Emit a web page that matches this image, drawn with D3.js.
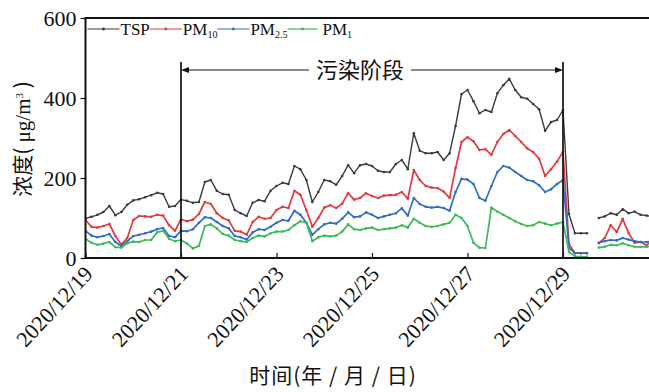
<!DOCTYPE html>
<html>
<head>
<meta charset="utf-8">
<script src="https://cdn.jsdelivr.net/npm/d3@7"></script>
<style>
  html, body { margin: 0; padding: 0; background: #fff; }
  svg { display: block; }
  text { font-family: "Liberation Serif", "Noto Sans CJK SC", serif; fill: #111; }
</style>
</head>
<body>
<svg id="chart" width="649" height="392"></svg>
<script>
// Concentrations sampled every 3 hours from 2020-12-19 00:00 (null = no record)
const startDate = new Date(2020, 11, 19, 0, 0);
const stepHours = 3;

const tsp = [
  99,103,108,115,130,107,115,133,144,147,152,157,163,160,128,130,146,
  143,138,140,190,195,168,160,158,120,112,105,138,145,142,168,180,
  188,185,230,222,195,140,165,195,192,183,205,232,212,232,235,230,
  218,215,215,235,245,222,312,268,262,262,265,245,262,330,410,
  420,392,362,370,365,412,432,448,420,402,398,385,372,318,340,345,370,
  110,62,62,62,null,100,104,112,108,122,112,116,108,106,104
];
const pm10 = [
  95,78,76,80,85,55,34,50,95,105,104,103,108,106,82,68,97,
  92,96,110,140,135,112,100,94,68,66,58,90,103,98,100,120,
  128,125,168,158,120,78,100,126,132,125,136,162,146,150,162,155,
  150,156,157,158,165,148,220,195,180,176,175,166,150,225,290,
  302,292,270,272,258,290,310,320,305,290,274,265,248,205,222,241,266,
  35,12,12,12,null,37,50,82,65,98,62,38,40,32,45
];
const pm25 = [
  68,56,52,55,60,40,30,42,55,58,62,66,72,75,55,52,68,
  67,72,88,102,100,90,80,74,55,52,46,64,72,70,78,88,
  95,93,118,108,88,58,72,84,88,86,98,114,102,104,114,108,
  100,104,108,112,124,106,150,135,128,126,128,125,118,165,198,
  196,185,150,143,180,215,230,226,215,205,195,192,182,165,172,185,195,
  25,12,12,12,null,38,42,45,44,50,46,42,40,40,42
];
const pm1 = [
  48,38,33,36,40,27,26,37,41,40,45,45,64,68,48,42,45,
  36,24,30,80,84,74,60,56,45,42,40,50,56,54,62,66,
  66,70,82,92,88,42,52,56,54,56,66,84,72,70,74,76,
  70,72,74,76,82,76,98,88,80,78,80,84,88,108,100,
  80,38,26,25,126,116,108,100,92,85,80,82,90,86,82,86,90,
  15,4,3,3,null,26,28,33,32,37,32,28,28,28,30
];

const seriesNames = ["TSP", "PM10", "PM2.5", "PM1"];
const seriesValues = [tsp, pm10, pm25, pm1];
const seriesColors = ["#3b3b3b", "#e2393f", "#2f6cc6", "#3cb95a"];

const yTicks = [0, 200, 400, 600];
const xTickDates = ["2020/12/19", "2020/12/21", "2020/12/23", "2020/12/25", "2020/12/27", "2020/12/29"];
const phaseStart = "2020/12/21";
const phaseEnd = "2020/12/29";
const phaseLabel = "污染阶段";
const xTitle = "时间(年 / 月 / 日)";

const parseDay = d3.timeParse("%Y/%m/%d");
const times = tsp.map((_, i) => d3.timeHour.offset(startDate, i * stepHours));

const svg = d3.select("#chart");
const W = 649, H = 392;
const margin = { left: 85.5, top: 18, bottom: 134 };
const plotBottom = H - margin.bottom;
const plotRight = margin.left + 12 * 47.75;

const x = d3.scaleTime()
  .domain([startDate, d3.timeDay.offset(startDate, 12)])
  .range([margin.left, plotRight]);
const y = d3.scaleLinear().domain([0, 600]).range([plotBottom, margin.top]);

svg.append("rect").attr("width", W).attr("height", H).attr("fill", "#fff");

svg.append("defs").append("clipPath").attr("id", "plotClip")
  .append("rect").attr("x", margin.left).attr("y", margin.top - 2)
  .attr("width", plotRight - margin.left).attr("height", plotBottom - margin.top + 2);

// Series lines with small point markers
const plot = svg.append("g").attr("clip-path", "url(#plotClip)");
const line = d3.line()
  .defined(d => d.v !== null)
  .x(d => x(d.t)).y(d => y(d.v));

seriesValues.forEach((vals, k) => {
  const pts = vals.map((v, i) => ({ t: times[i], v }));
  const g = plot.append("g");
  g.append("path").datum(pts)
    .attr("fill", "none")
    .attr("stroke", seriesColors[k])
    .attr("stroke-width", k === 0 ? 1.4 : 1.7)
    .attr("stroke-linejoin", "round")
    .attr("d", line);
  g.selectAll("circle").data(pts.filter(d => d.v !== null)).join("circle")
    .attr("cx", d => x(d.t)).attr("cy", d => y(d.v))
    .attr("r", 1.3).attr("fill", seriesColors[k]);
});

// Y axis
const yAxis = svg.append("g").attr("transform", `translate(${margin.left},0)`)
  .call(d3.axisLeft(y).tickValues(yTicks).tickSize(5).tickPadding(4).tickSizeOuter(0));
yAxis.select(".domain").remove();
yAxis.selectAll(".tick line").attr("stroke", "#111").attr("stroke-width", 1.2);
yAxis.selectAll(".tick text")
  .style("font-family", "'Liberation Serif', serif").style("font-size", "22px")
  .attr("fill", "#111").attr("dy", "0.34em");

// X axis (ticks point inward)
const xAxis = svg.append("g").attr("transform", `translate(0,${plotBottom})`)
  .call(d3.axisBottom(x).tickValues(xTickDates.map(parseDay))
    .tickSizeInner(-5).tickSizeOuter(0).tickFormat(d3.timeFormat("%Y/%m/%d")));
xAxis.select(".domain").remove();
xAxis.selectAll(".tick line").attr("stroke", "#111").attr("stroke-width", 1.2);
xAxis.selectAll(".tick text")
  .style("font-family", "'Liberation Serif', serif").style("font-size", "22px")
  .attr("fill", "#111")
  .attr("x", 0).attr("y", 0).attr("dy", 0)
  .style("text-anchor", "end")
  .attr("transform", "translate(8,17) rotate(-47)");

// Frame: left, bottom and top edges
svg.append("line").attr("x1", margin.left).attr("x2", margin.left)
  .attr("y1", margin.top).attr("y2", plotBottom).attr("stroke", "#111").attr("stroke-width", 2);
svg.append("line").attr("x1", margin.left - 1).attr("x2", W)
  .attr("y1", plotBottom).attr("y2", plotBottom).attr("stroke", "#111").attr("stroke-width", 2);
svg.append("line").attr("x1", margin.left - 1).attr("x2", W)
  .attr("y1", margin.top).attr("y2", margin.top).attr("stroke", "#111").attr("stroke-width", 2);

// Pollution phase markers
const xs = x(parseDay(phaseStart)), xe = x(parseDay(phaseEnd));
const arrowY = 70;
[xs, xe].forEach(xx => {
  svg.append("line").attr("x1", xx).attr("x2", xx)
    .attr("y1", 62).attr("y2", plotBottom).attr("stroke", "#111").attr("stroke-width", 1.7);
});
const phaseText = svg.append("text")
  .attr("x", (xs + xe) / 2 - 12).attr("y", arrowY + 8)
  .attr("text-anchor", "middle")
  .style("font-family", "'Noto Sans CJK SC', sans-serif").style("font-size", "22px")
  .text(phaseLabel);
const pb = phaseText.node().getBBox();
svg.append("line").attr("x1", xs + 6).attr("x2", pb.x - 7)
  .attr("y1", arrowY).attr("y2", arrowY).attr("stroke", "#111").attr("stroke-width", 1.2);
svg.append("line").attr("x1", pb.x + pb.width + 7).attr("x2", xe - 6)
  .attr("y1", arrowY).attr("y2", arrowY).attr("stroke", "#111").attr("stroke-width", 1.2);
svg.append("path")
  .attr("d", `M${xs},${arrowY} l8,-3 l0,6 Z M${xe},${arrowY} l-8,-3 l0,6 Z`)
  .attr("fill", "#111");

// Legend
const legendY = 29;
let lx = margin.left + 2;
const legendLabels = [
  ["TSP", null], ["PM", "10"], ["PM", "2.5"], ["PM", "1"]
];
legendLabels.forEach((lab, k) => {
  const len = k === 3 ? 30 : 32;
  svg.append("line").attr("x1", lx).attr("x2", lx + len)
    .attr("y1", legendY).attr("y2", legendY)
    .attr("stroke", seriesColors[k]).attr("stroke-width", 1.2);
  svg.append("circle").attr("cx", lx + len / 2).attr("cy", legendY).attr("r", 1.4)
    .attr("fill", seriesColors[k]);
  const tx = lx + len + (k === 3 ? 5 : 1);
  const t = svg.append("text").attr("x", tx).attr("y", legendY + 6)
    .style("font-size", "17px");
  t.append("tspan").text(lab[0]);
  if (lab[1]) t.append("tspan").attr("dy", 3).style("font-size", "10px").text(lab[1]);
  lx = tx + t.node().getComputedTextLength();
});

// Axis titles
const yTitle = svg.append("text")
  .attr("transform", "translate(30,139) rotate(-90)")
  .attr("text-anchor", "middle")
  .style("font-size", "21px");
yTitle.append("tspan").style("font-family", "'Noto Sans CJK SC', sans-serif").text("浓度(");
yTitle.append("tspan").text(" μg/m");
yTitle.append("tspan").attr("dy", -7).style("font-size", "11px").text("3");
yTitle.append("tspan").attr("dy", 7).style("font-family", "'Noto Sans CJK SC', sans-serif").text(" )");

svg.append("text")
  .attr("x", 333).attr("y", 383)
  .attr("text-anchor", "middle")
  .style("font-family", "'Noto Sans CJK SC', sans-serif").style("font-size", "21px")
  .style("letter-spacing", "1px")
  .text(xTitle);
</script>
</body>
</html>
